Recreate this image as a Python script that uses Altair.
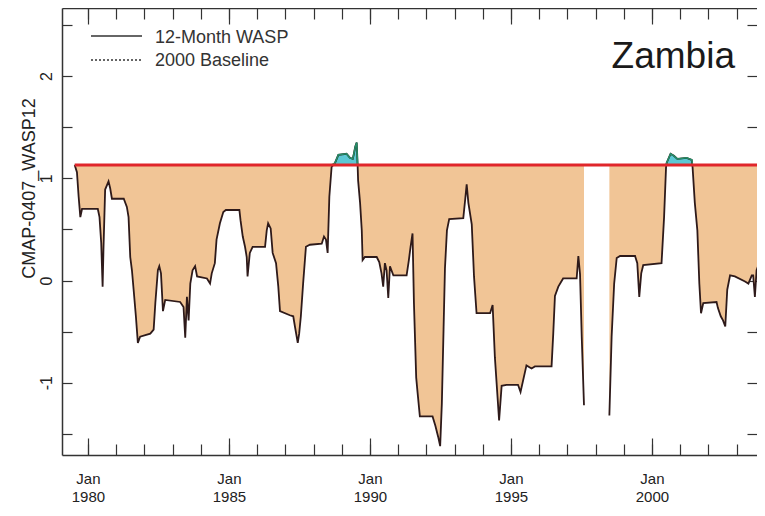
import altair as alt
import pandas as pd

# ---- data ----
T1 = [1979.53, 1979.61, 1979.67, 1979.73, 1979.79, 1980.35, 1980.41, 1980.47, 1980.52, 1980.55,
      1980.61, 1980.73, 1980.79, 1980.85, 1981.27, 1981.38, 1981.44, 1981.50, 1981.56, 1981.62,
      1981.70, 1981.77, 1981.85, 1982.21, 1982.33, 1982.39, 1982.48, 1982.53, 1982.59, 1982.66,
      1982.74, 1983.27, 1983.39, 1983.45, 1983.51, 1983.57, 1983.63, 1983.71, 1983.80, 1983.87,
      1984.22, 1984.33, 1984.39, 1984.50, 1984.56, 1984.68, 1984.80, 1984.89, 1985.37, 1985.41,
      1985.49, 1985.57, 1985.63, 1985.66, 1985.74, 1985.84, 1986.28, 1986.34, 1986.39, 1986.48,
      1986.55, 1986.67, 1986.75, 1986.81, 1987.16, 1987.28, 1987.34, 1987.44, 1987.49, 1987.55,
      1987.63, 1987.73, 1987.87, 1988.29, 1988.37, 1988.44, 1988.50, 1988.56, 1988.64, 1988.76,
      1988.88, 1989.17, 1989.29, 1989.39, 1989.43, 1989.48, 1989.53, 1989.56, 1989.58, 1989.65,
      1989.71, 1989.74, 1989.82, 1990.24, 1990.33, 1990.41, 1990.47, 1990.53, 1990.59, 1990.65,
      1990.71, 1990.83, 1991.30, 1991.38, 1991.44, 1991.51, 1991.56, 1991.64, 1991.69, 1991.77,
      1992.22, 1992.32, 1992.42, 1992.49, 1992.55, 1992.61, 1992.66, 1992.73, 1992.81, 1993.31,
      1993.38, 1993.43, 1993.49, 1993.61, 1993.69, 1993.78, 1994.26, 1994.35, 1994.43, 1994.58,
      1994.67, 1994.84, 1995.25, 1995.34, 1995.55, 1995.73, 1995.85, 1996.44, 1996.50, 1996.56,
      1996.68, 1996.85, 1997.33, 1997.39, 1997.45, 1997.51, 1997.59]
V1 = [1.13, 1.06, 0.82, 0.62, 0.70, 0.70, 0.62, 0.37, -0.06, 0.30,
      0.89, 0.97, 0.90, 0.80, 0.80, 0.72, 0.62, 0.23, 0.10, -0.09,
      -0.35, -0.61, -0.55, -0.52, -0.48, -0.22, 0.10, 0.14, 0.07, -0.30,
      -0.19, -0.21, -0.26, -0.56, -0.16, -0.39, -0.03, 0.10, 0.14, 0.04,
      0.02, -0.03, 0.07, 0.17, 0.40, 0.56, 0.67, 0.69, 0.69, 0.59,
      0.43, 0.33, 0.23, 0.04, 0.27, 0.33, 0.33, 0.49, 0.56, 0.51,
      0.27, 0.17, -0.06, -0.30, -0.34, -0.35, -0.45, -0.61, -0.52, -0.35,
      -0.03, 0.33, 0.35, 0.36, 0.43, 0.40, 0.27, 0.82, 1.11, 1.15,
      1.23, 1.24, 1.20, 1.19, 1.24, 1.31, 1.35, 1.15, 0.98, 0.76,
      0.49, 0.20, 0.23, 0.23, 0.18, 0.07, -0.06, 0.17, 0.10, -0.17,
      0.14, 0.05, 0.05, 0.20, 0.33, 0.46, -0.22, -0.95, -1.10, -1.33,
      -1.33, -1.42, -1.53, -1.62, -1.20, -0.48, 0.12, 0.49, 0.60, 0.61,
      0.80, 0.94, 0.76, 0.55, 0.04, -0.32, -0.32, -0.24, -0.75, -1.37,
      -1.03, -1.02, -1.02, -1.09, -0.83, -0.86, -0.84, -0.84, -0.52, -0.15,
      -0.06, 0.02, 0.02, 0.24, 0.06, -0.55, -1.22]

T2 = [1998.49, 1998.57, 1998.66, 1998.75, 1998.87, 1999.40, 1999.48, 1999.55, 1999.62, 1999.69,
      2000.34, 2000.43, 2000.50, 2000.52, 2000.66, 2000.78, 2000.90, 2001.23, 2001.41, 2001.44,
      2001.52, 2001.61, 2001.68, 2001.74, 2001.82, 2002.29, 2002.34, 2002.44, 2002.52, 2002.60,
      2002.67, 2002.77, 2002.94, 2003.30, 2003.42, 2003.54, 2003.59, 2003.65, 2003.71, 2003.80,
      2003.90]
V2 = [-1.32, -0.55, -0.03, 0.22, 0.24, 0.24, 0.17, -0.16, 0.07, 0.15,
      0.17, 0.62, 1.11, 1.15, 1.24, 1.22, 1.19, 1.20, 1.18, 1.11,
      0.76, 0.49, -0.03, -0.32, -0.22, -0.21, -0.27, -0.35, -0.39, -0.45,
      -0.09, 0.05, 0.04, -0.01, -0.03, 0.05, 0.05, -0.16, 0.10, 0.17,
      0.20]

BASELINE = 1.13
SERIES = ["12-Month WASP", "2000 Baseline"]
COUNTRY = "Zambia"
Y_TITLE = "CMAP-0407_WASP12"
X_DOMAIN = [1979.08, 2003.725]
Y_DOMAIN = [-1.707, 2.666]
MAJOR_YEARS = [1980, 1985, 1990, 1995, 2000]
ALL_YEARS = list(range(1979, 2004))
Y_TICKS = [-1.5, -1.0, -0.5, 0.0, 0.5, 1.0, 1.5, 2.0, 2.5]

df = pd.DataFrame({
    "t": T1 + T2,
    "v": V1 + V2,
    "seg": ["a"] * len(T1) + ["b"] * len(T2),
})
df["b"] = BASELINE
df["lo"] = df["v"].clip(upper=BASELINE)
df["hi"] = df["v"].clip(lower=BASELINE)

rule_df = pd.DataFrame({"x": [T1[0]], "x2": [2004.0], "y": [BASELINE]})

xs = alt.Scale(domain=X_DOMAIN, nice=False, zero=False)
ys = alt.Scale(domain=Y_DOMAIN, nice=False, zero=False)
TICK = "#333333"
FRAME = "#333333"

base = alt.Chart(df)


def tick_axis(orient, values, size, **kw):
    return alt.Axis(orient=orient, values=values, tickSize=size, offset=-size, labels=False,
                    domain=False, grid=False, title=None, tickColor=TICK, tickWidth=1.2, **kw)


def frame_axis(orient):
    return alt.Axis(orient=orient, ticks=False, labels=False, domain=True, grid=False, title=None,
                    domainColor=FRAME, domainWidth=1.5, offset=0)


ax_bottom_major = alt.Axis(orient="bottom", values=MAJOR_YEARS, tickSize=17, offset=-17, domain=False,
                           grid=False, title=None, tickColor=TICK, tickWidth=1.2,
                           labelExpr="['Jan', toString(datum.value)]", labelFontSize=15,
                           labelLineHeight=18, labelPadding=16, labelBaseline="top",
                           labelColor="#222222", labelFont="Liberation Sans Narrow, Liberation Sans")
ax_left = alt.Axis(orient="left", values=Y_TICKS, tickSize=10, offset=-10, domain=False, grid=False,
                   tickColor=TICK, tickWidth=1.2,
                   labelExpr="datum.value % 1 == 0 ? toString(datum.value) : ''",
                   labelAngle=-90, labelAlign="center", labelBaseline="middle", labelPadding=16,
                   labelFontSize=16, labelColor="#222222",
                   title=Y_TITLE, titleFontSize=18, titleFontWeight="normal", titleColor="#222222",
                   titleAngle=-90, titleAlign="center", titleBaseline="middle",
                   titleX=-43, titleY=180)

area_below = base.mark_area(color="#f1c596", opacity=1, clip=True).encode(
    x=alt.X("t:Q", scale=xs, axis=tick_axis("bottom", ALL_YEARS, 11)),
    y=alt.Y("lo:Q", scale=ys, axis=ax_left),
    y2="b:Q",
    detail="seg:N",
)
area_above = base.mark_area(color="#5cc8d4", opacity=1, clip=True).encode(
    x=alt.X("t:Q", scale=xs, axis=tick_axis("top", ALL_YEARS, 11)),
    y=alt.Y("hi:Q", scale=ys, axis=tick_axis("right", Y_TICKS, 10)),
    y2="b:Q",
    detail="seg:N",
)
line_dark = base.mark_line(color="#2e1a1a", strokeWidth=1.8, clip=True).encode(
    x=alt.X("t:Q", scale=xs, axis=ax_bottom_major),
    y=alt.Y("v:Q", scale=ys, axis=frame_axis("left")),
    detail="seg:N",
)
line_green = base.mark_line(color="#24906a", strokeWidth=1.5, clip=True).encode(
    x=alt.X("t:Q", scale=xs, axis=tick_axis("top", MAJOR_YEARS, 16)),
    y=alt.Y("hi:Q", scale=ys, axis=None),
    detail="seg:N",
)
red_rule = alt.Chart(rule_df).mark_rule(color="#e0262b", strokeWidth=3.2, clip=True).encode(
    x=alt.X("x:Q", scale=xs, axis=frame_axis("bottom")),
    x2="x2:Q",
    y=alt.Y("y:Q", scale=ys, axis=None),
)
frame_top = alt.Chart(rule_df).mark_rule(opacity=0, clip=True).encode(
    x=alt.X("x:Q", scale=xs, axis=frame_axis("top")),
    y=alt.Y("y:Q", scale=ys, axis=None),
)

one = alt.Chart(pd.DataFrame({"k": [0]}))
leg_solid = one.mark_rule(color="#333333", strokeWidth=1.5).encode(
    x=alt.value(29), x2=alt.value(80), y=alt.value(28))
leg_dot = one.mark_rule(color="#333333", strokeWidth=1.5, strokeDash=[2, 2]).encode(
    x=alt.value(29), x2=alt.value(80), y=alt.value(52))
leg_t1 = one.mark_text(text=SERIES[0], align="left", baseline="middle", fontSize=18,
                       color="#333333").encode(x=alt.value(93), y=alt.value(30))
leg_t2 = one.mark_text(text=SERIES[1], align="left", baseline="middle", fontSize=18,
                       color="#333333").encode(x=alt.value(93), y=alt.value(53))
country = one.mark_text(text=COUNTRY, align="right", baseline="alphabetic", fontSize=37,
                        color="#1a1a1a").encode(x=alt.value(673), y=alt.value(60))

chart = alt.layer(
    area_below, area_above, line_dark, line_green, red_rule, frame_top,
    leg_solid, leg_dot, leg_t1, leg_t2, country,
).resolve_axis(x="independent", y="independent").properties(
    width=695, height=447,
    autosize=alt.AutoSizeParams(type="none"),
    padding={"left": 54, "top": 0, "right": 0, "bottom": 53},
).configure(font="Liberation Sans").configure_view(stroke=None)

chart.save("out.html", embed_options={"renderer": "svg", "actions": False})
